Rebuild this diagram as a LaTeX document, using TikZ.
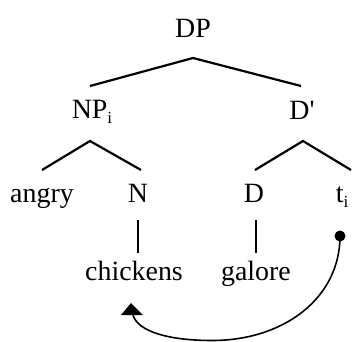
\documentclass[tikz,border=0pt]{standalone}
\usepackage{fontspec}
\setmainfont{Liberation Serif}
\usetikzlibrary{calc}
\newcommand{\sbi}{\raisebox{-0.2em}{\fontsize{17}{17}\selectfont i}}
\tikzset{
  lbl/.style={anchor=base, inner sep=0pt, font=\fontsize{28}{30}\selectfont},
  branch/.style={line width=2.2bp},
  move/.style={line width=1.6bp},
}
\begin{document}
\begin{tikzpicture}[x=1bp,y=-1bp]
\useasboundingbox (0,0) rectangle (356,342);
% labels
\node[lbl] (DP) at (193,37) {DP};
\node[lbl] (NP) at (92,118) {NP\sbi};
\node[lbl] (Dbar) at (302,119) {D\textquotesingle};
\node[lbl] (angry) at (42,202) {angry};
\node[lbl] (N) at (138,202) {N};
\node[lbl] (D) at (254,202) {D};
\node[lbl] (t) at (342,202) {t\sbi};
\node[lbl] (chickens) at (134,280) {chickens};
\node[lbl] (galore) at (256,280) {galore};
% branches
\draw[branch] ($(NP.base)+(-2,-32)$) -- ($(DP.base)+(0,21)$) -- ($(Dbar.base)+(-1,-33)$);
\draw[branch] ($(angry.base)+(0,-32)$) -- ($(NP.base)+(-2,23)$) -- ($(N.base)+(3,-32)$);
\draw[branch] ($(D.base)+(1,-32)$) -- ($(Dbar.base)+(1,22)$) -- ($(t.base)+(9,-32)$);
\draw[branch] ($(N.base)+(0,18)$) -- ($(chickens.base)+(4,-27)$);
\draw[branch] ($(D.base)+(2,18)$) -- ($(galore.base)+(0,-27)$);
% movement arrow: trace dot, curved line, upright head under "chickens"
\coordinate (trace) at ($(t.base)+(-2,34)$);
\coordinate (target) at ($(chickens.base)+(-1,35)$);
\coordinate (low) at (212,340.5);
\fill (trace) circle (5.5bp);
\draw[move] (trace) .. controls ($(trace)+(0,62)$) and (284,340.5) .. (low)
  .. controls (170,340.5) and (138,332) .. (target);
\fill ($(target)+(-12,0)$) -- ($(target)+(-2,-12)$) -- ($(target)+(10,0)$) -- cycle;
\end{tikzpicture}
\end{document}
